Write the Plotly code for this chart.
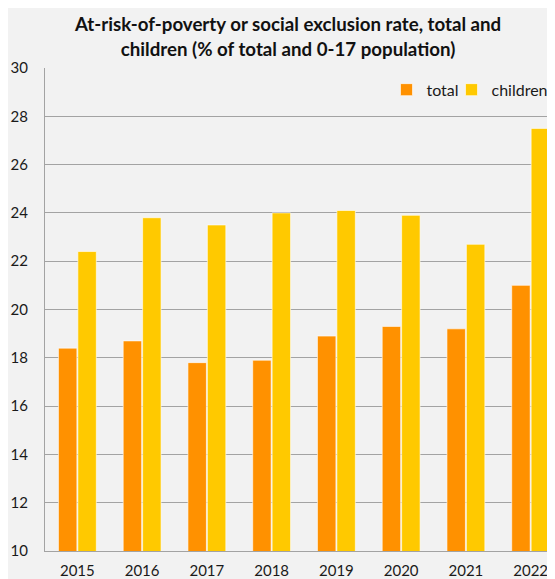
import plotly.graph_objects as go

years = ["2015", "2016", "2017", "2018", "2019", "2020", "2021", "2022"]
total = [18.4, 18.7, 17.8, 17.9, 18.9, 19.3, 19.2, 21.0]
children = [22.4, 23.8, 23.5, 24.0, 24.1, 23.9, 22.7, 27.5]
y_ticks = [10, 12, 14, 16, 18, 20, 22, 24, 26, 28, 30]

FONT = "Lato, Open Sans, sans-serif"

fig = go.Figure()
fig.add_trace(go.Bar(x=years, y=total, name="total", legend="legend",
                     marker=dict(color="#FF9100", line=dict(color="rgba(255,255,255,0.6)", width=1))))
fig.add_trace(go.Bar(x=years, y=children, name="children", legend="legend2",
                     marker=dict(color="#FFC900", line=dict(color="rgba(255,255,255,0.6)", width=1))))

leg_common = dict(orientation="h", y=0.955, yanchor="middle", xanchor="left",
                  bgcolor="rgba(0,0,0,0)", font=dict(size=16, color="#1a1a1a", family=FONT))

fig.update_layout(
    width=547, height=571,
    paper_bgcolor="#f2f2f2", plot_bgcolor="#f2f2f2",
    margin=dict(l=37, r=0, t=60, b=28, autoexpand=False),
    barmode="group", bargap=0.40, bargroupgap=0.05,
    font=dict(family=FONT, size=15, color="#1a1a1a"),
    title=dict(
        text="<b>At-risk-of-poverty or social exclusion rate, total and<br>children (% of total and 0-17 population)</b>",
        x=0.512, xanchor="center", y=0.959, yanchor="top",
        font=dict(size=18.7, color="#111111", family=FONT),
    ),
    legend=dict(x=0.6696, **leg_common),
    legend2=dict(x=0.7971, **leg_common),
    showlegend=True,
)
fig.update_yaxes(range=[10, 30], tickvals=y_ticks, showgrid=True, gridcolor="#a3a3a3", gridwidth=1,
                 showline=True, linecolor="#a3a3a3", linewidth=1, ticks="", zeroline=False,
                 ticklabelstandoff=13, tickfont=dict(size=15))
fig.update_xaxes(range=[-0.5, 7.376], showline=True, linecolor="#a3a3a3", linewidth=1, ticks="",
                 ticklabelstandoff=6, tickfont=dict(size=15))

fig.write_html("out.html")
